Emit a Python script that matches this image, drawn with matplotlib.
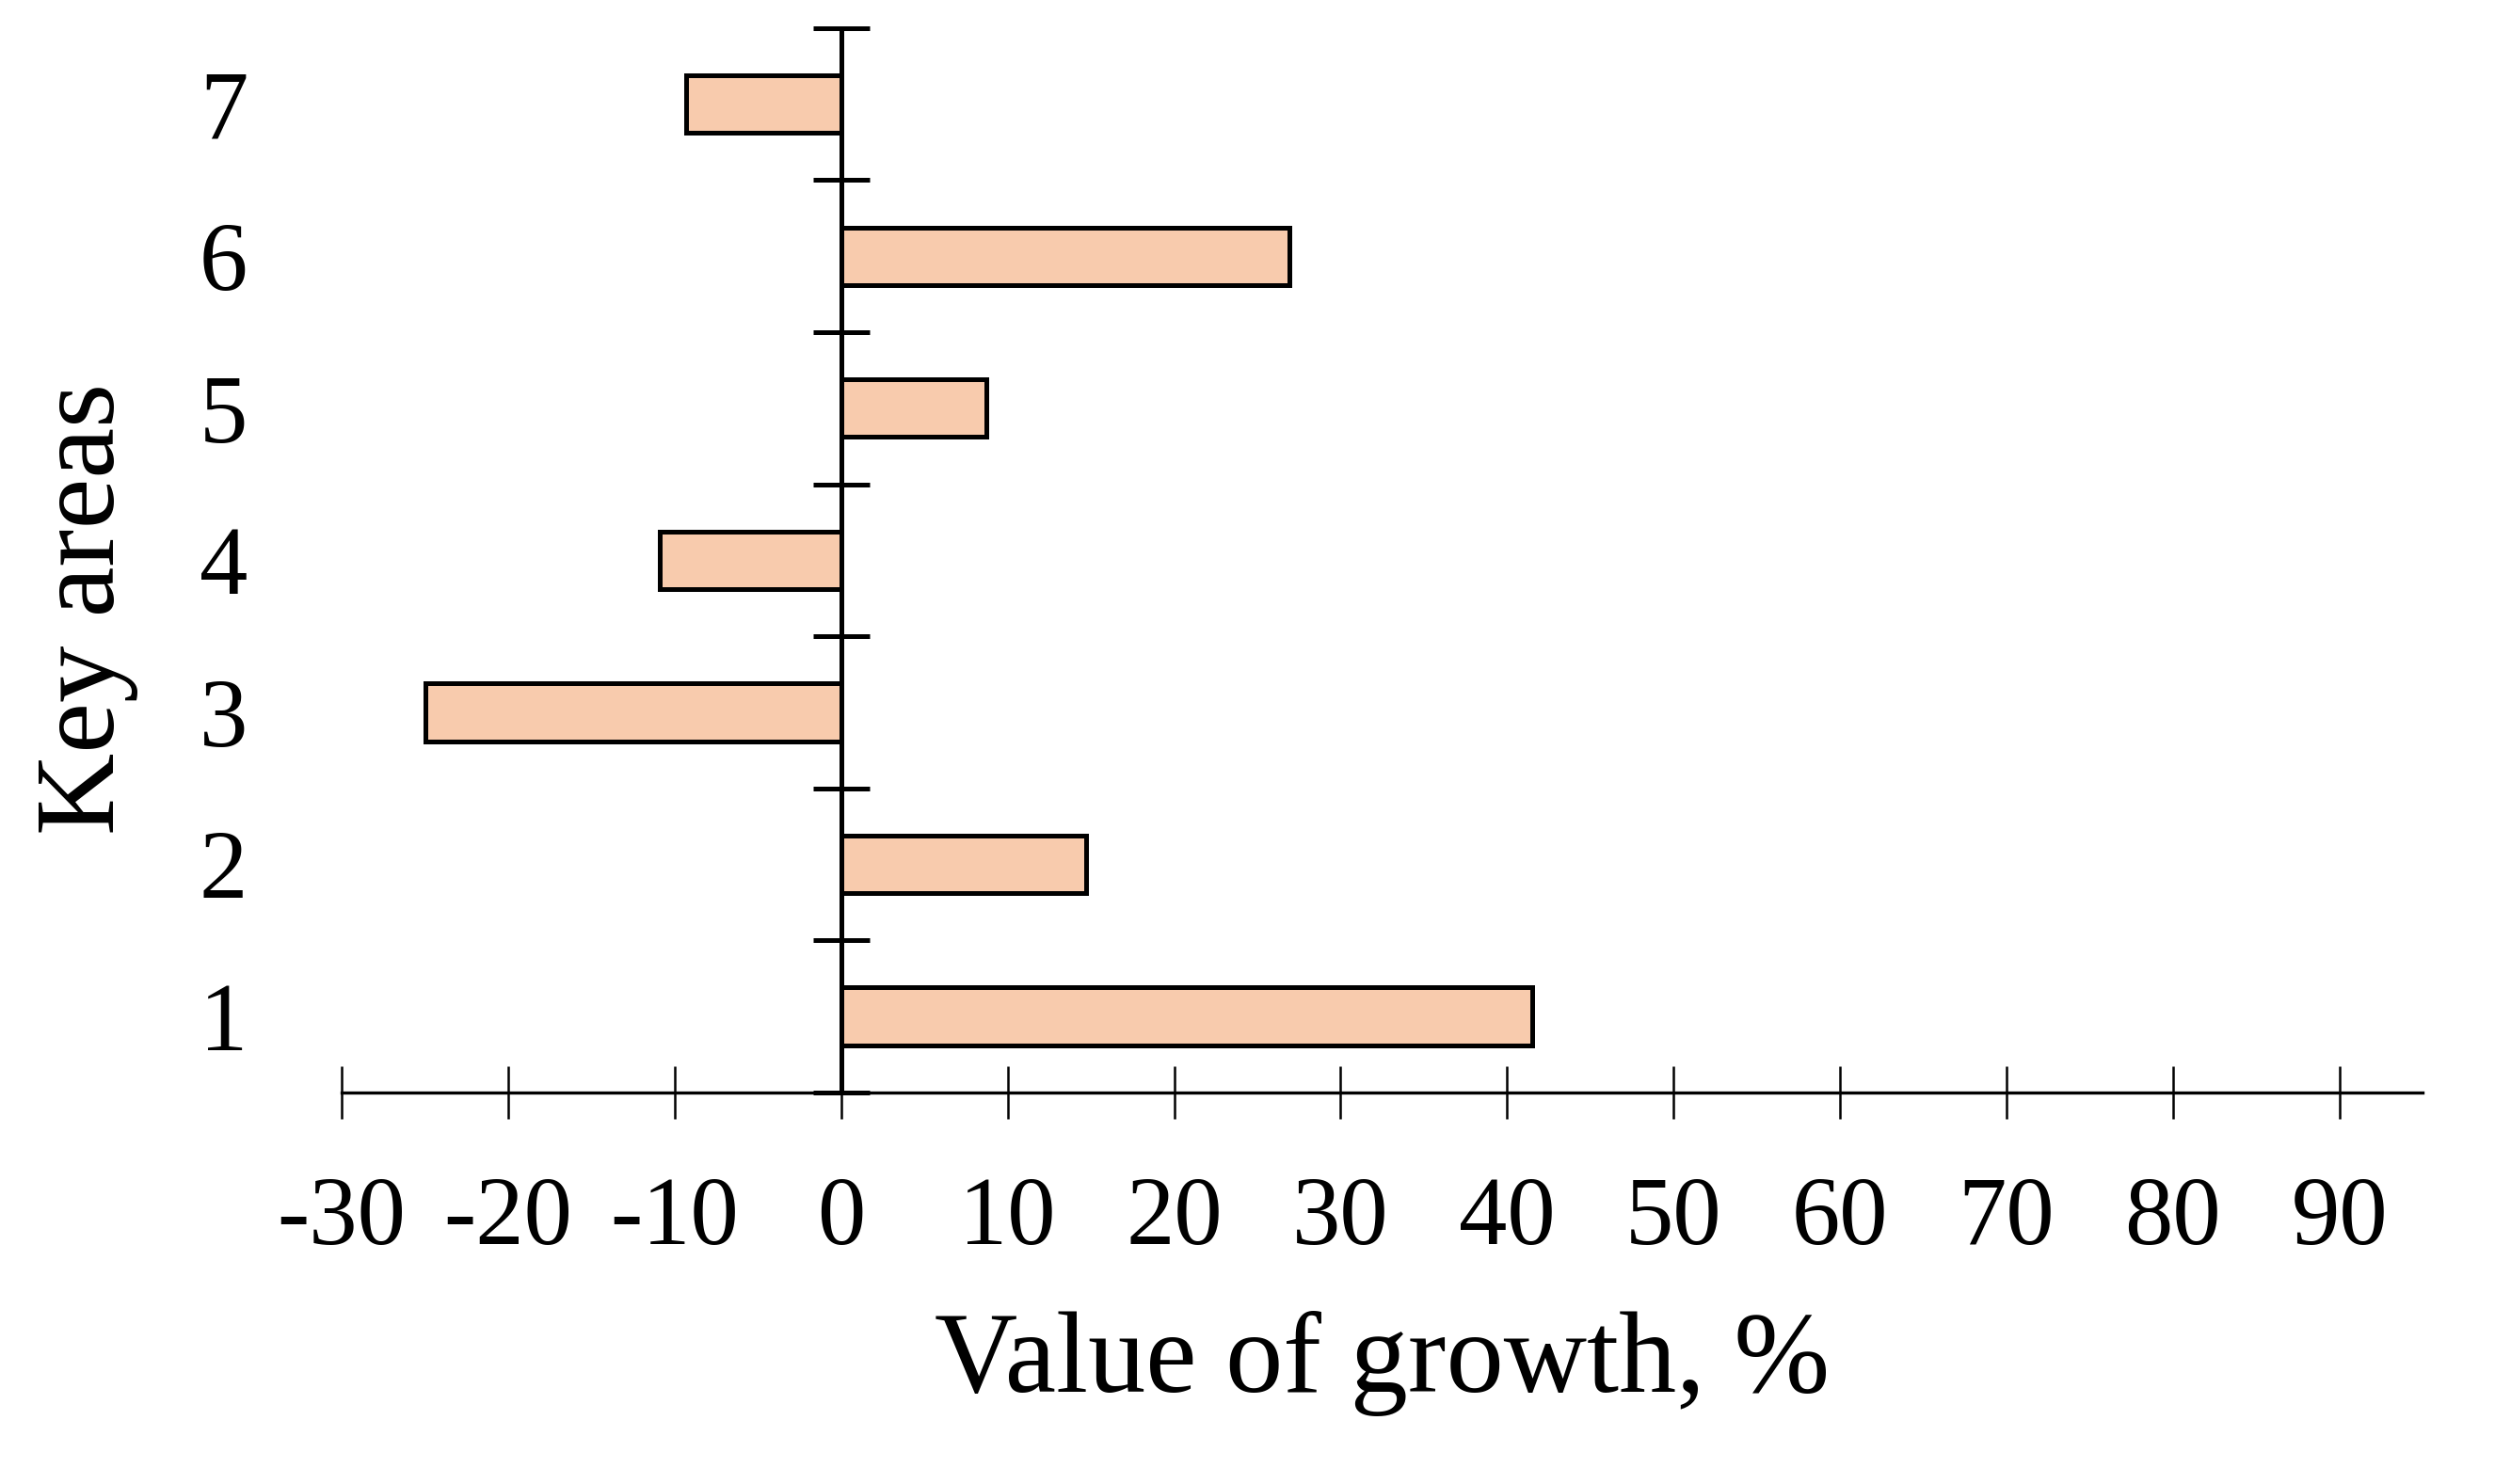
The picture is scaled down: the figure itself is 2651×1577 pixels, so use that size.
import matplotlib.pyplot as plt

BAR_COLOR = "#F8CBAD"
EDGE = "#000000"

areas = ["1", "2", "3", "4", "5", "6", "7"]
growth = [41.5, 14.7, -25.0, -10.9, 8.7, 26.9, -9.3]
x_ticks = [-30, -20, -10, 0, 10, 20, 30, 40, 50, 60, 70, 80, 90]

plt.rcParams["font.family"] = ["Liberation Serif", "DejaVu Serif"]

fig = plt.figure(figsize=(26.51, 15.77), dpi=100)
ax = fig.add_axes([0.137, 0.264, 0.834, 0.717])

pos = [i + 0.5 for i in range(len(areas))]
ax.barh(pos, growth, height=0.38, color=BAR_COLOR, edgecolor=EDGE, linewidth=3.6, zorder=3)

ax.set_xlim(-30, 95)
ax.set_ylim(0, 7)

# spines: y axis sits at zero
for s in ["top", "right"]:
    ax.spines[s].set_visible(False)
ax.spines["left"].set_position(("data", 0))
ax.spines["left"].set_linewidth(3.6)
ax.spines["left"].set_zorder(4)
ax.spines["bottom"].set_linewidth(2.4)

ax.set_xticks(x_ticks)
ax.set_xticklabels([str(v) for v in x_ticks])
ax.tick_params(axis="x", direction="inout", length=41, width=1.8, pad=44, labelsize=74)

ax.set_yticks(range(0, 8))
ax.set_yticklabels([])
ax.tick_params(axis="y", direction="inout", length=43, width=3.6)

# category labels at the far left
sec = ax.secondary_yaxis("left")
sec.spines["left"].set_visible(False)
sec.set_yticks(pos)
sec.set_yticklabels(areas)
sec.tick_params(axis="y", length=0, pad=72, labelsize=74)

ax.set_ylabel("Key areas", fontsize=87)
ax.yaxis.set_label_coords(-0.098, 0.454)

ax.set_xlabel("Value of growth, %", fontsize=88, labelpad=35)

fig.savefig("out.png", dpi=100, facecolor="white")
plt.close(fig)
